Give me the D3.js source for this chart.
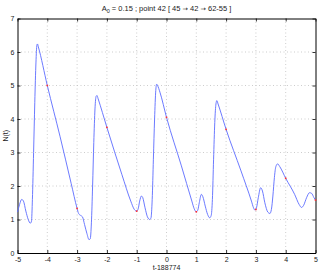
<!DOCTYPE html>
<html><head><meta charset="utf-8">
<script src="https://cdn.jsdelivr.net/npm/d3@7"></script>
<style>
html,body{margin:0;padding:0;background:#fff;}
svg{display:block;font-family:"Liberation Sans",Arial,sans-serif;}
</style></head>
<body><svg id="c" width="322" height="273"></svg>
<script>
const tValues = [-5.00,-4.93,-4.86,-4.80,-4.72,-4.64,-4.57,-4.53,-4.50,-4.46,-4.42,-4.38,-4.35,-4.33,-4.30,-4.00,-3.57,-3.20,-3.00,-2.95,-2.88,-2.82,-2.75,-2.67,-2.60,-2.56,-2.52,-2.48,-2.44,-2.40,-2.36,-2.33,-2.30,-2.00,-1.50,-1.20,-1.08,-1.00,-0.95,-0.90,-0.84,-0.80,-0.72,-0.64,-0.56,-0.52,-0.48,-0.44,-0.40,-0.36,-0.33,-0.30,-0.22,0.00,0.50,0.85,0.93,1.00,1.05,1.10,1.17,1.22,1.30,1.38,1.45,1.50,1.54,1.58,1.62,1.66,1.69,1.73,2.00,2.50,2.85,2.92,2.97,3.02,3.08,3.16,3.22,3.30,3.40,3.47,3.52,3.57,3.62,3.67,3.73,3.80,4.00,4.30,4.45,4.53,4.60,4.70,4.80,4.87,4.95,5.00];
const nValues = [1.22,1.45,1.60,1.55,1.25,1.00,0.89,0.95,1.6,3.0,4.5,5.7,6.2,6.24,6.15,5.00,3.47,2.08,1.33,1.18,1.12,1.08,0.85,0.58,0.40,0.42,0.9,2.0,3.3,4.3,4.68,4.70,4.62,3.75,2.35,1.55,1.30,1.25,1.32,1.55,1.70,1.66,1.35,1.08,1.00,1.05,1.6,2.8,4.0,4.85,5.04,5.00,4.80,4.05,2.60,1.55,1.32,1.23,1.28,1.50,1.75,1.68,1.40,1.15,1.05,1.12,1.6,2.8,3.9,4.45,4.55,4.45,3.69,2.45,1.55,1.35,1.28,1.35,1.65,1.95,1.85,1.50,1.22,1.18,1.30,1.7,2.25,2.58,2.66,2.58,2.23,1.75,1.45,1.36,1.42,1.65,1.80,1.78,1.65,1.58];
const markT = [-4,-3,-2,-1,0,1,2,3,4,5];
const markN = [5.00,1.33,3.75,1.25,4.05,1.23,3.69,1.30,2.23,1.58];
const xTicks = [-5,-4,-3,-2,-1,0,1,2,3,4,5];
const yTicks = [0,1,2,3,4,5,6,7];

const W=322,H=273, L=17.5, R=315.5, T=18.5, B=253;
const svg=d3.select("#c");
const x=d3.scaleLinear().domain([-5,5]).range([L,R]);
const y=d3.scaleLinear().domain([0,7]).range([B,T]);

// grid
const g=svg.append("g");
g.selectAll(".vx").data(xTicks.slice(1,-1)).enter().append("line")
 .attr("x1",d=>x(d)).attr("x2",d=>x(d)).attr("y1",T).attr("y2",B)
 .attr("stroke","#c0c0c0").attr("stroke-width",0.8).attr("stroke-dasharray","1,2.5");
g.selectAll(".hy").data(yTicks.slice(1,-1)).enter().append("line")
 .attr("y1",d=>y(d)).attr("y2",d=>y(d)).attr("x1",L).attr("x2",R)
 .attr("stroke","#c0c0c0").attr("stroke-width",0.8).attr("stroke-dasharray","1,2.5");

// axes
const fmt=d=>String(d);
const ax=svg.append("g").attr("transform",`translate(0,${B})`)
 .call(d3.axisBottom(x).tickValues(xTicks).tickFormat(fmt).tickSizeInner(-3).tickSizeOuter(0).tickPadding(4));
const axT=svg.append("g").attr("transform",`translate(0,${T})`)
 .call(d3.axisTop(x).tickValues(xTicks).tickFormat("").tickSizeInner(-3).tickSizeOuter(0));
const ay=svg.append("g").attr("transform",`translate(${L},0)`)
 .call(d3.axisLeft(y).tickValues(yTicks).tickFormat(fmt).tickSizeInner(-3).tickSizeOuter(0).tickPadding(3));
const ayR=svg.append("g").attr("transform",`translate(${R},0)`)
 .call(d3.axisRight(y).tickValues(yTicks).tickFormat("").tickSizeInner(-3).tickSizeOuter(0));
[ax,axT,ay,ayR].forEach(a=>{
  a.selectAll("path").attr("stroke","#000").attr("stroke-width",1);
  a.selectAll("line").attr("stroke","#000").attr("stroke-width",0.8);
  a.selectAll("text").attr("font-size","7px").attr("fill","#222").attr("font-family","'Liberation Sans',Arial,sans-serif");
});

// line
const line=d3.line().x((d,i)=>x(tValues[i])).y(d=>y(d)).curve(d3.curveMonotoneX);
svg.append("path").attr("d",line(nValues)).attr("fill","none")
 .attr("stroke","#5b6bff").attr("stroke-width",0.9);

// markers
svg.selectAll(".mk").data(markN).enter().append("rect")
 .attr("x",(d,i)=>x(markT[i])-0.8).attr("y",d=>y(d)-0.8).attr("width",1.6).attr("height",1.6)
 .attr("fill","#ff3030");

// title
const title=svg.append("text").attr("x",(L+R)/2).attr("y",11).attr("text-anchor","middle")
 .attr("font-size","7.5px").attr("fill","#222");
title.append("tspan").text("A");
title.append("tspan").attr("dy",2).attr("font-size","5.5px").text("0");
title.append("tspan").attr("dy",-2).text(" = 0.15 ; point 42 [ 45 ");
title.append("tspan").attr("font-family","'DejaVu Sans'").attr("font-size","6.5px").text("\u2192");
title.append("tspan").text(" 42 ");
title.append("tspan").attr("font-family","'DejaVu Sans'").attr("font-size","6.5px").text("\u2192");
title.append("tspan").text(" 62-55 ]");

// xlabel
svg.append("text").attr("x",(L+R)/2).attr("y",270).attr("text-anchor","middle")
 .attr("font-size","7px").attr("fill","#222").text("t-188774");
// ylabel
svg.append("text").attr("transform",`translate(7.5,${(T+B)/2}) rotate(-90)`).attr("text-anchor","middle")
 .attr("font-size","7px").attr("fill","#222").text("N(t)");
</script></body></html>
